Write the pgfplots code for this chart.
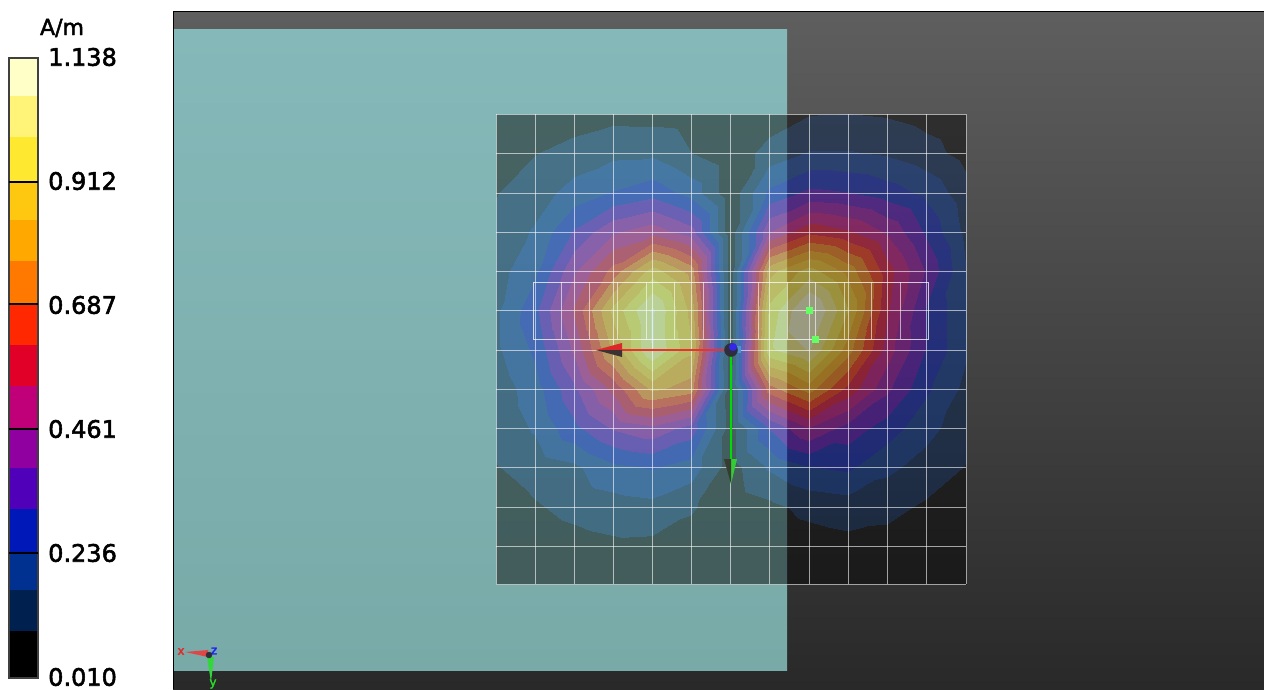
\documentclass[border=0pt]{standalone}
\usepackage{pgfplots}
\pgfplotsset{compat=1.18}
\usepackage{fontspec}
\setmainfont{DejaVu Sans}
\newfontfamily\lab[FakeBold=2.2]{DejaVu Sans}
\definecolor{c0}{RGB}{0,0,0}
\definecolor{c1}{RGB}{0,32,80}
\definecolor{c2}{RGB}{0,48,144}
\definecolor{c3}{RGB}{0,24,184}
\definecolor{c4}{RGB}{80,0,184}
\definecolor{c5}{RGB}{144,0,160}
\definecolor{c6}{RGB}{192,0,120}
\definecolor{c7}{RGB}{224,0,40}
\definecolor{c8}{RGB}{255,40,0}
\definecolor{c9}{RGB}{255,120,0}
\definecolor{c10}{RGB}{255,168,0}
\definecolor{c11}{RGB}{255,200,16}
\definecolor{c12}{RGB}{255,232,48}
\definecolor{c13}{RGB}{255,244,120}
\definecolor{c14}{RGB}{255,255,200}
\definecolor{axr}{RGB}{235,50,50}
\definecolor{axg}{RGB}{0,220,0}
\definecolor{ptg}{RGB}{100,255,100}
\definecolor{ballb}{RGB}{50,40,230}
\definecolor{balld}{RGB}{45,45,60}
\definecolor{boxb}{RGB}{80,145,210}
\newcommand{\barseg}[3]{\addplot[fill=#1,draw=none,forget plot] coordinates {(9,#2)(38,#2)(38,#3)(9,#3)} --cycle;}
\newcommand{\lbl}[2]{\node[anchor=west,inner sep=0pt] at (axis cs:48,#1) {\lab\fontsize{24}{24}\selectfont #2};}
\begin{document}
\begin{tikzpicture}
\useasboundingbox (0,0) rectangle (1264pt,689pt);
\begin{axis}[
  at={(0,0)},anchor=south west,
  scale only axis, width=1264pt, height=689pt,
  xmin=0,xmax=1264,ymin=0,ymax=689,y dir=reverse,
  axis lines=none, clip=true,
  colormap={field}{rgb255=(0,0,0) rgb255=(0,32,80) rgb255=(0,48,144) rgb255=(0,24,184) rgb255=(80,0,184) rgb255=(144,0,160) rgb255=(192,0,120) rgb255=(224,0,40) rgb255=(255,40,0) rgb255=(255,120,0) rgb255=(255,168,0) rgb255=(255,200,16) rgb255=(255,232,48) rgb255=(255,244,120) rgb255=(255,255,200) rgb255=(255,255,200)},
  colormap access=piecewise constant,
  point meta min=0, point meta max=15,
]
% background
\addplot[draw=none,top color=white!37!black,bottom color=white!16!black,forget plot] coordinates {(173,11)(1264,11)(1264,689)(173,689)} --cycle;
\addplot[draw=none,top color={rgb,255:red,133;green,185;blue,185},bottom color={rgb,255:red,120;green,170;blue,168},forget plot] coordinates {(173,29)(787,29)(787,670)(173,670)} --cycle;
\addplot[draw=black,line width=1pt,forget plot] coordinates {(173.5,689)(173.5,11)(1264,11)};
% field on the 13 x 13 measuring grid, in colour-band units
\addplot[surf,shader=interp,mesh/cols=13,point meta=explicit,opacity=0.46,forget plot] table[x=x,y=y,meta=u,row sep=\\] {
x y u\\
496 114 .2\\ 535 114 .3\\ 574 114 .4\\ 613 114 .65\\ 652 114 .6\\ 691 114 .5\\ 730 114 .2\\ 769 114 .4\\ 809 114 .9\\ 848 114 .95\\ 887 114 .85\\ 926 114 .6\\ 966 114 .3\\
496 153 .5\\ 535 153 .9\\ 574 153 1.33\\ 613 153 1.65\\ 652 153 1.7\\ 691 153 .95\\ 730 153 .3\\ 769 153 1.3\\ 809 153 1.95\\ 848 153 1.95\\ 887 153 1.75\\ 926 153 1.3\\ 966 153 .6\\
496 193 .9\\ 535 193 1.45\\ 574 193 2.25\\ 613 193 2.9\\ 652 193 3.4\\ 691 193 2.45\\ 730 193 .3\\ 769 193 3.05\\ 809 193 4\\ 848 193 3.8\\ 887 193 3.3\\ 926 193 2.6\\ 966 193 1.3\\
496 232 1.2\\ 535 232 2\\ 574 232 3.9\\ 613 232 5.5\\ 652 232 6.2\\ 691 232 5.1\\ 730 232 .3\\ 769 232 5.6\\ 809 232 7.3\\ 848 232 6.7\\ 887 232 5.5\\ 926 232 3.6\\ 966 232 1.6\\
496 271 1.5\\ 535 271 2.6\\ 574 271 5.5\\ 613 271 7.9\\ 652 271 10.8\\ 691 271 9\\ 730 271 .3\\ 769 271 10\\ 809 271 11.7\\ 848 271 10\\ 887 271 7\\ 926 271 4.6\\ 966 271 1.9\\
496 310 1.7\\ 535 310 3.5\\ 574 310 6.7\\ 613 310 10.6\\ 652 310 13.3\\ 691 310 10\\ 730 310 .3\\ 769 310 11.5\\ 809 310 14.4\\ 848 310 11.3\\ 887 310 6.7\\ 926 310 3.7\\ 966 310 2\\
496 350 1.7\\ 535 350 3\\ 574 350 5.8\\ 613 350 9.6\\ 652 350 13.2\\ 691 350 10.5\\ 730 350 .3\\ 769 350 12\\ 809 350 13.2\\ 848 350 9.8\\ 887 350 6.1\\ 926 350 3.7\\ 966 350 2\\
496 389 1.3\\ 535 389 2.4\\ 574 389 4.5\\ 613 389 6.8\\ 652 389 9.6\\ 691 389 8.9\\ 730 389 .4\\ 769 389 8\\ 809 389 9.8\\ 848 389 7.2\\ 887 389 4.9\\ 926 389 3\\ 966 389 1.6\\
496 428 1.2\\ 535 428 2\\ 574 428 3.5\\ 613 428 4.8\\ 652 428 5.4\\ 691 428 4.3\\ 730 428 .5\\ 769 428 3.8\\ 809 428 5.6\\ 848 428 4.3\\ 887 428 3.3\\ 926 428 2.2\\ 966 428 1.3\\
496 467 .9\\ 535 467 1.3\\ 574 467 1.7\\ 613 467 2.6\\ 652 467 2.9\\ 691 467 2.4\\ 730 467 .5\\ 769 467 2\\ 809 467 2.8\\ 848 467 3\\ 887 467 2.1\\ 926 467 1.5\\ 966 467 .9\\
496 507 .4\\ 535 507 .85\\ 574 507 1.2\\ 613 507 1.45\\ 652 507 1.6\\ 691 507 1.05\\ 730 507 .3\\ 769 507 .7\\ 809 507 1.2\\ 848 507 1.4\\ 887 507 1.2\\ 926 507 .8\\ 966 507 .4\\
496 546 .2\\ 535 546 .4\\ 574 546 .6\\ 613 546 .75\\ 652 546 .7\\ 691 546 .5\\ 730 546 .2\\ 769 546 .3\\ 809 546 .5\\ 848 546 .65\\ 887 546 .6\\ 926 546 .4\\ 966 546 .2\\
496 584 .1\\ 535 584 .2\\ 574 584 .3\\ 613 584 .3\\ 652 584 .3\\ 691 584 .2\\ 730 584 .1\\ 769 584 .1\\ 809 584 .2\\ 848 584 .25\\ 887 584 .25\\ 926 584 .2\\ 966 584 .1\\
};
% grid
\pgfplotsinvokeforeach{496,535,574,613,652,691,730,769,809,848,887,926,966}{
  \addplot[draw=white,opacity=.6,line width=1pt,forget plot] coordinates {(#1,114)(#1,584)};
}
\pgfplotsinvokeforeach{114,153,193,232,271,310,350,389,428,467,507,546,584}{
  \addplot[draw=white,opacity=.6,line width=1pt,forget plot] coordinates {(496,#1)(966,#1)};
}
% strip
\pgfplotsinvokeforeach{561,589,617,646,674,703,758,787,815,844,871,900}{
  \addplot[draw=white,opacity=.6,line width=1pt,forget plot] coordinates {(#1,282)(#1,339)};
}
\addplot[draw=white,opacity=.75,line width=1pt,forget plot] coordinates {(533,282)(928,282)(928,339)(533,339)} --cycle;
% red axis
\addplot[draw=axr,line width=1.2pt,forget plot] coordinates {(622,350)(731,350)};
\addplot[draw=none,fill={rgb,255:red,220;green,40;blue,40},forget plot] coordinates {(596,350)(622,343)(622,350)} --cycle;
\addplot[draw=none,fill={rgb,255:red,60;green,50;blue,50},forget plot] coordinates {(596,350)(622,357)(622,350)} --cycle;
% green axis
\addplot[draw=axg,line width=1.2pt,forget plot] coordinates {(731,350)(731,459)};
\addplot[draw=none,fill={rgb,255:red,50;green,205;blue,50},forget plot] coordinates {(731,484)(737,459)(731,459)} --cycle;
\addplot[draw=none,fill={rgb,255:red,55;green,60;blue,50},forget plot] coordinates {(731,484)(724,459)(731,459)} --cycle;
% origin and points
\addplot[only marks,mark=square*,mark size=3pt,mark options={fill=boxb,draw=boxb,line join=miter},forget plot] coordinates {(737,349)};
\addplot[only marks,mark=*,mark size=6.5pt,mark options={fill=balld,draw=balld},forget plot] coordinates {(731,350)};
\addplot[only marks,mark=*,mark size=3.8pt,mark options={fill=ballb,draw=ballb},forget plot] coordinates {(733,347)};
\addplot[only marks,mark=square*,mark size=3pt,mark options={fill=ptg,draw=ptg,line join=miter},forget plot] coordinates {(809,310)(815,339)};
% corner triad
\addplot[draw=none,fill={rgb,255:red,225;green,70;blue,70},forget plot] coordinates {(185,652)(208,650)(208,657)} --cycle;
\addplot[draw=none,fill={rgb,255:red,50;green,215;blue,60},forget plot] coordinates {(207,657)(214,657)(211,682)} --cycle;
\addplot[only marks,mark=*,mark size=3pt,mark options={fill=balld,draw=balld},forget plot] coordinates {(209,655)};
\node[text={rgb,255:red,230;green,40;blue,40},inner sep=0pt] at (axis cs:181,651.5) {\lab\fontsize{12}{12}\selectfont x};
\node[text={rgb,255:red,30;green,30;blue,240},inner sep=0pt] at (axis cs:214,651) {\lab\fontsize{12}{12}\selectfont z};
\node[text={rgb,255:red,40;green,220;blue,40},inner sep=0pt] at (axis cs:213,684) {\lab\fontsize{12}{12}\selectfont y};
% colour bar
\barseg{c14}{58}{96}\barseg{c13}{96}{137}\barseg{c12}{137}{182}\barseg{c11}{182}{220}\barseg{c10}{220}{261}
\barseg{c9}{261}{304}\barseg{c8}{304}{345}\barseg{c7}{345}{386}\barseg{c6}{386}{429}\barseg{c5}{429}{468}
\barseg{c4}{468}{509}\barseg{c3}{509}{553}\barseg{c2}{553}{590}\barseg{c1}{590}{631}\barseg{c0}{631}{678}
\addplot[draw=black!75,line width=1.2pt,forget plot] coordinates {(9,58)(38,58)(38,678)(9,678)} --cycle;
\pgfplotsinvokeforeach{182,304,429,553}{
  \addplot[draw=black,line width=1.3pt,forget plot] coordinates {(9,#1)(38,#1)};
}
\node[inner sep=0pt] at (axis cs:62,28) {\lab\fontsize{22}{22}\selectfont A/m};
\lbl{57}{1.138}
\lbl{181}{0.912}
\lbl{305}{0.687}
\lbl{429}{0.461}
\lbl{553}{0.236}
\lbl{677}{0.010}
\end{axis}
\end{tikzpicture}
\end{document}
